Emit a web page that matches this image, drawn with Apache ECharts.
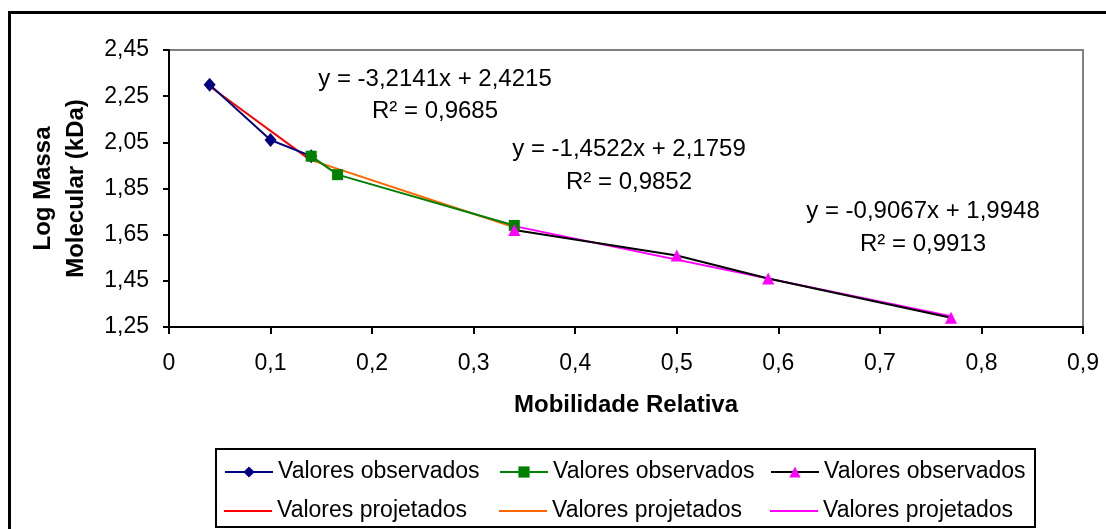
<!DOCTYPE html>
<html>
<head>
<meta charset="utf-8">
<script src="https://cdn.jsdelivr.net/npm/echarts@6/dist/echarts.min.js"></script>
<style>
html,body{margin:0;padding:0;background:#fff;}
#chart{width:1106px;height:529px;}
</style>
</head>
<body>
<div id="chart"></div>
<script>
// ---- data ----
var obsX1 = [0.04, 0.10, 0.14];
var obsY1 = [2.30, 2.06, 1.99];
var obsX2 = [0.14, 0.166, 0.34];
var obsY2 = [1.99, 1.91, 1.69];
var obsX3 = [0.34, 0.50, 0.59, 0.77];
var obsY3 = [1.67, 1.56, 1.46, 1.29];
var projX1 = [0.04, 0.14];
var projY1 = [2.293, 1.971];
var projX2 = [0.14, 0.34];
var projY2 = [1.973, 1.682];
var projX3 = [0.34, 0.77];
var projY3 = [1.687, 1.297];
var eqLines = ['y = -3,2141x + 2,4215', 'y = -1,4522x + 2,1759', 'y = -0,9067x + 1,9948'];
var r2Lines = ['R² = 0,9685', 'R² = 0,9852', 'R² = 0,9913'];
var xTicks = {min: 0, max: 0.9, step: 0.1};
var yTicks = {min: 1.25, max: 2.45, step: 0.2};
var obsName = 'Valores observados';
var projName = 'Valores projetados';

function pairs(xs, ys) { return xs.map(function (x, i) { return [x, ys[i]]; }); }
function comma(v, d) { return v.toFixed(d).replace('.', ','); }

var FONT = 'Arial, "Liberation Sans", sans-serif';
var chart = echarts.init(document.getElementById('chart'), null, {renderer: 'canvas'});

function obsSeries(id, xs, ys, lineColor, markColor, symbol, size) {
  return {
    id: id, name: id, type: 'line', data: pairs(xs, ys),
    symbol: symbol, symbolSize: size, showSymbol: true,
    lineStyle: {color: lineColor, width: 2},
    itemStyle: {color: markColor},
    z: 3, animation: false, silent: true
  };
}
function projSeries(id, xs, ys, color) {
  return {
    id: id, name: id, type: 'line', data: pairs(xs, ys),
    symbol: 'none', lineStyle: {color: color, width: 2},
    itemStyle: {color: color}, z: 2, animation: false, silent: true
  };
}
function legendItem(left, top, id, isObs) {
  var o = {
    orient: 'horizontal', left: left, top: top, padding: 0,
    itemWidth: 48, itemHeight: isObs ? 14 : 2,
    data: [id], selectedMode: false,
    formatter: function () { return isObs ? obsName : projName; },
    textStyle: {fontFamily: FONT, fontSize: 23, color: '#000', lineHeight: 24}
  };
  if (!isObs) { o.icon = 'rect'; }
  return o;
}

var eqPos = [[435, 79, 111], [629, 149, 182], [923, 211, 244]];
var graphics = [
  {type: 'rect', shape: {x: 9.5, y: 12.5, width: 1300, height: 700},
   style: {fill: null, stroke: '#000', lineWidth: 3}, silent: true},
  {type: 'rect', shape: {x: 216, y: 449, width: 819, height: 78},
   style: {fill: null, stroke: '#000', lineWidth: 2}, silent: true}
];
eqLines.forEach(function (t, i) {
  graphics.push({type: 'text', x: eqPos[i][0], y: eqPos[i][1],
    style: {text: t, fontFamily: FONT, fontSize: 24, fill: '#000', align: 'center', verticalAlign: 'middle'}});
  graphics.push({type: 'text', x: eqPos[i][0], y: eqPos[i][2],
    style: {text: r2Lines[i], fontFamily: FONT, fontSize: 24, fill: '#000', align: 'center', verticalAlign: 'middle'}});
});

chart.setOption({
  animation: false,
  backgroundColor: '#fff',
  grid: {left: 169, top: 50, right: 23, bottom: 202, show: true,
         borderColor: '#808080', borderWidth: 2, backgroundColor: '#fff', containLabel: false},
  xAxis: {
    type: 'value', min: xTicks.min, max: xTicks.max, interval: xTicks.step,
    name: 'Mobilidade Relativa', nameLocation: 'middle', nameGap: 66,
    nameTextStyle: {fontFamily: FONT, fontSize: 24, fontWeight: 'bold', color: '#000'},
    axisLine: {show: true, onZero: false, lineStyle: {color: '#000', width: 2}},
    axisTick: {show: true, length: 7, lineStyle: {color: '#000', width: 2}},
    axisLabel: {fontFamily: FONT, fontSize: 23, color: '#000', margin: 25,
      formatter: function (v) { return v === 0 ? '0' : comma(v, 1); }},
    splitLine: {show: false}
  },
  yAxis: {
    type: 'value', min: yTicks.min, max: yTicks.max, interval: yTicks.step,
    name: 'Log Massa\nMolecular (kDa)', nameLocation: 'middle', nameGap: 70, nameRotate: 90,
    nameTextStyle: {fontFamily: FONT, fontSize: 24, fontWeight: 'bold', color: '#000', lineHeight: 33},
    axisLine: {show: true, onZero: false, lineStyle: {color: '#000', width: 2}},
    axisTick: {show: true, length: 6, lineStyle: {color: '#000', width: 2}},
    axisLabel: {fontFamily: FONT, fontSize: 23, color: '#000', margin: 20,
      formatter: function (v) { return comma(v, 2); }},
    splitLine: {show: false}
  },
  legend: [
    legendItem(224, 460, 'obs1', true), legendItem(499, 460, 'obs2', true), legendItem(770, 460, 'obs3', true),
    legendItem(224, 499, 'proj1', false), legendItem(499, 499, 'proj2', false), legendItem(770, 499, 'proj3', false)
  ],
  series: [
    obsSeries('obs1', obsX1, obsY1, '#000080', '#000080', 'diamond', [12, 14]),
    obsSeries('obs2', obsX2, obsY2, '#008000', '#008000', 'rect', 11),
    obsSeries('obs3', obsX3, obsY3, '#000000', '#FF00FF', 'triangle', 12),
    projSeries('proj1', projX1, projY1, '#FF0000'),
    projSeries('proj2', projX2, projY2, '#FF6600'),
    projSeries('proj3', projX3, projY3, '#FF00FF')
  ],
  graphic: graphics
});
</script>
</body>
</html>
